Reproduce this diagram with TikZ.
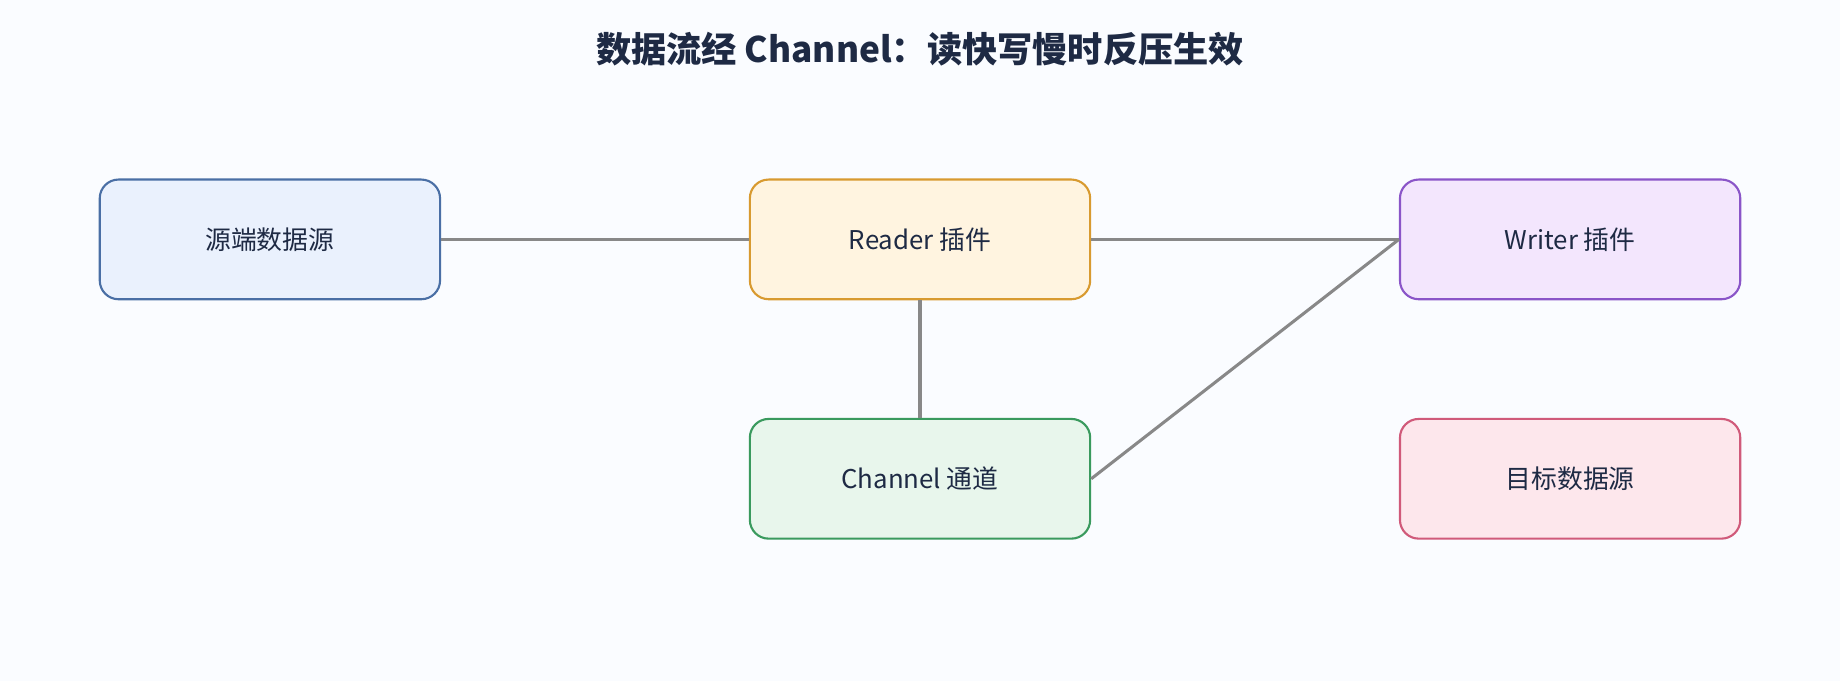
\documentclass[tikz,border=0pt]{standalone}
\usepackage{fontspec}
\setmainfont{Noto Sans CJK SC}
\usepackage{tikz}
\usetikzlibrary{positioning}
\definecolor{bgc}{HTML}{FAFCFF}
\definecolor{txt}{HTML}{1E2A44}
\definecolor{lnc}{HTML}{888888}
\tikzset{
  box/.style={rectangle, rounded corners=8pt, draw, line width=0.9pt, minimum width=145pt, minimum height=51pt, font=\fontsize{11}{13}\selectfont, text=txt},
  src/.style={draw={rgb,255:red,74;green,111;blue,165}, fill={rgb,255:red,234;green,241;blue,253}},
  rdr/.style={draw={rgb,255:red,216;green,154;blue,48}, fill={rgb,255:red,255;green,244;blue,224}},
  wtr/.style={draw={rgb,255:red,138;green,85;blue,200}, fill={rgb,255:red,243;green,230;blue,253}},
  chn/.style={draw={rgb,255:red,58;green,154;blue,94}, fill={rgb,255:red,232;green,246;blue,236}},
  tgt/.style={draw={rgb,255:red,208;green,90;blue,122}, fill={rgb,255:red,253;green,231;blue,236}},
  link/.style={draw=lnc, line width=1.3pt},
}
\begin{document}
\begin{tikzpicture}[x=0.5pt, y=-0.5pt]
\fill[bgc] (0,0) rectangle (1568,580);
\useasboundingbox (0,0) rectangle (1568,580);
%Title
\node[font=\bfseries\fontsize{15}{18}\selectfont, text=txt] (title) at (784,42) {数据流经 Channel：读快写慢时反压生效};
%Nodes
\node[box, src] (source) at (230,204) {源端数据源};
\node[box, rdr] (reader) at (784,204) {Reader 插件};
\node[box, wtr] (writer) at (1338,204) {Writer 插件};
\node[box, chn] (channel) at (784,408) {Channel 通道};
\node[box, tgt] (target) at (1338,408) {目标数据源};
%Lines
\draw[link] (source.east) -- (reader.west);
\draw[link] (reader.east) -- (writer.west);
\draw[link] (reader.south) -- (channel.north);
\draw[link] (channel.east) -- (writer.west);
\end{tikzpicture}
\end{document}
